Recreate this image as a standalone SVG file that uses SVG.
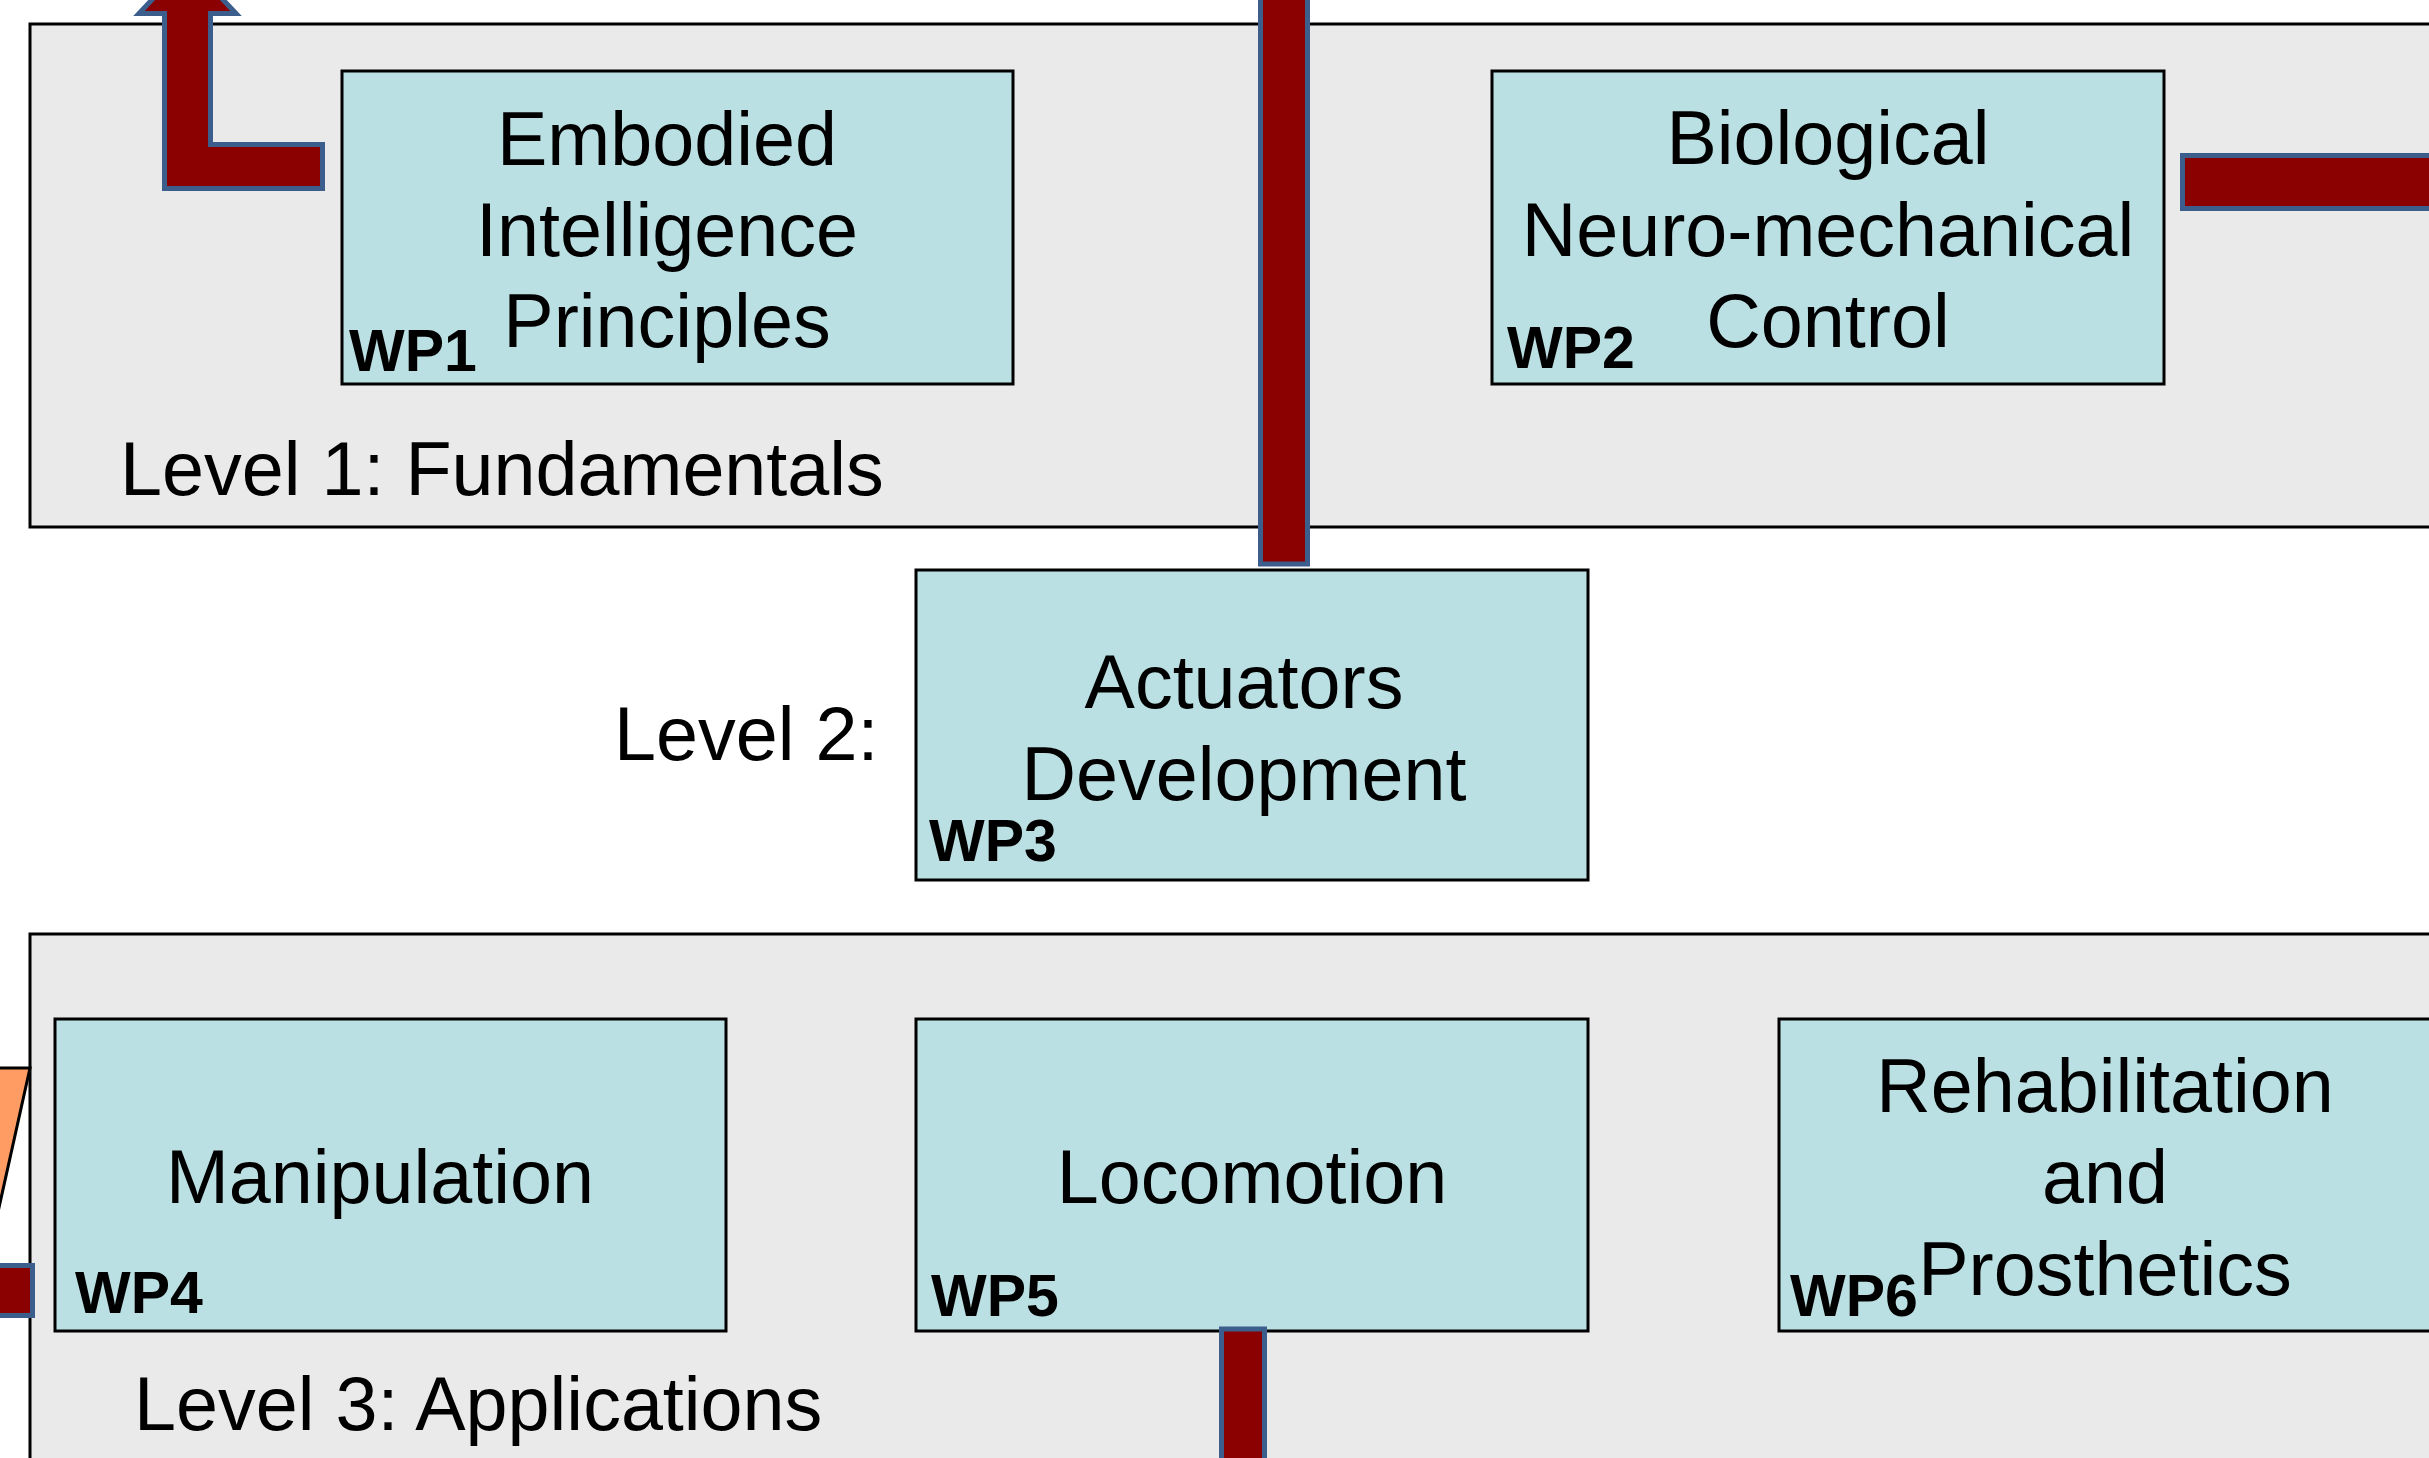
<svg xmlns="http://www.w3.org/2000/svg" width="2429" height="1458" viewBox="0 0 2429 1458">
<style>
.level{fill:#EAEAEA;stroke:#000;stroke-width:3}
.wp{fill:#BBE0E3;stroke:#000;stroke-width:3}
.t{font-family:"Liberation Sans",Arial,sans-serif;font-size:75.5px;fill:#000}
.c{text-anchor:middle}
.lbl{font-family:"Liberation Sans",Arial,sans-serif;font-size:59px;font-weight:bold;fill:#000}
.arrow{fill:#8B0000;stroke:#3B5E8C;stroke-width:5;stroke-linejoin:miter}
.orange{fill:#FF9C63;stroke:#000;stroke-width:3}
</style>
<rect width="2429" height="1458" fill="#fff"/>
<g id="level1">
<rect class="level" x="30" y="24" width="2500" height="503"/>
<text class="t" x="120" y="495">Level 1: Fundamentals</text>
</g>
<g id="level2">
<text class="t" x="614" y="760">Level 2:</text>
</g>
<g id="level3">
<rect class="level" x="30" y="934" width="2500" height="600"/>
<text class="t" x="134" y="1430">Level 3: Applications</text>
</g>
<g id="wp1">
<rect class="wp" x="342" y="71" width="671" height="313"/>
<text class="t c" x="667" y="165">Embodied</text>
<text class="t c" x="667" y="256">Intelligence</text>
<text class="t c" x="667" y="347">Principles</text>
<text class="lbl" x="349" y="371">WP1</text>
</g>
<g id="wp2">
<rect class="wp" x="1492" y="71" width="672" height="313"/>
<text class="t c" x="1828" y="164">Biological</text>
<text class="t c" x="1828" y="256">Neuro-mechanical</text>
<text class="t c" x="1828" y="347">Control</text>
<text class="lbl" x="1507" y="368">WP2</text>
</g>
<g id="wp3">
<rect class="wp" x="916" y="570" width="672" height="310"/>
<text class="t c" x="1244" y="708">Actuators</text>
<text class="t c" x="1244" y="800">Development</text>
<text class="lbl" x="929" y="861">WP3</text>
</g>
<g id="wp4">
<rect class="wp" x="55" y="1019" width="671" height="312"/>
<text class="t c" x="380" y="1203">Manipulation</text>
<text class="lbl" x="75" y="1313">WP4</text>
</g>
<g id="wp5">
<rect class="wp" x="916" y="1019" width="672" height="312"/>
<text class="t c" x="1252" y="1203">Locomotion</text>
<text class="lbl" x="931" y="1316">WP5</text>
</g>
<g id="wp6">
<rect class="wp" x="1779" y="1019" width="672" height="312"/>
<text class="t c" x="2105" y="1112">Rehabilitation</text>
<text class="t c" x="2105" y="1203">and</text>
<text class="t c" x="2105" y="1295">Prosthetics</text>
<text class="lbl" x="1790" y="1316">WP6</text>
</g>
<g id="connectors">
<path class="arrow" d="M322.5,188.5 L322.5,144.5 L210.5,144.5 L210.5,13.5 L236,13.5 L187.5,-38 L139,13.5 L164.5,13.5 L164.5,188.5 Z"/>
<rect class="arrow" x="1260.5" y="-20" width="47" height="584"/>
<rect class="arrow" x="2182.5" y="155.5" width="300" height="53"/>
<rect class="arrow" x="1221.5" y="1329" width="43" height="200"/>
<rect class="arrow" x="-20" y="1265.5" width="52.5" height="50"/>
<polygon class="orange" points="-200,1068 30,1068 -20,1293 -200,1293"/>
</g>
</svg>
